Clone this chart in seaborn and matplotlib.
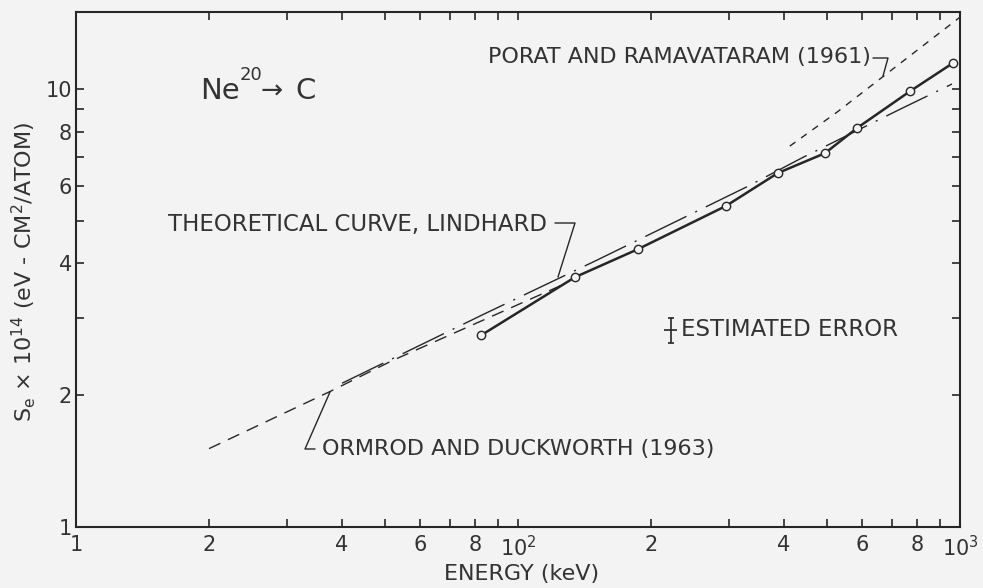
import numpy as np
import pandas as pd
import matplotlib
matplotlib.use("Agg")
import matplotlib.pyplot as plt
import seaborn as sns
from matplotlib.lines import Line2D
from matplotlib.ticker import FixedLocator, FixedFormatter, NullFormatter

# ---------------- data ----------------
exp_energy = [82.5, 134.6, 186.8, 295.5, 387, 495, 585, 771, 964]
exp_se = [2.74, 3.72, 4.31, 5.41, 6.43, 7.14, 8.15, 9.89, 11.47]

ormrod_energy = [20, 37.6, 52, 129]
ormrod_se = [1.51, 2.04, 2.40, 3.61]

lindhard_energy = [40, 83, 151, 328, 442, 726, 959]
lindhard_se = [2.13, 3.05, 4.07, 5.97, 6.99, 8.96, 10.27]

porat_energy = [412, 527, 1000]
porat_se = [7.41, 8.86, 14.6]

error_energy = [222]
error_se = [2.82]
error_yerr = [[0.19], [0.18]]
error_xerr = [[8], [7]]

x_ticks = [10, 20, 40, 60, 80, 100, 200, 400, 600, 800, 1000]
x_tick_labels = ["1", "2", "4", "6", "8", "$10^2$", "2", "4", "6", "8", "$10^3$"]
x_minor = [30, 50, 70, 90, 300, 500, 700, 900]
y_ticks = [1, 2, 4, 6, 8, 10]
y_tick_labels = ["1", "2", "4", "6", "8", "10"]
y_minor = [3, 5, 7, 9]

# ---------------- style ----------------
BG = "#f3f3f3"
INK = "#262626"
TXT = "#333333"
sns.set_theme(style="ticks")
plt.rcParams["font.family"] = ["DejaVu Sans"]
plt.rcParams["mathtext.fontset"] = "dejavusans"

W, H = 983, 588
fig = plt.figure(figsize=(W / 100, H / 100), dpi=100, facecolor=BG)
L, R, T, B = 76, 960, 12, 527
ax = fig.add_axes([L / W, 1 - B / H, (R - L) / W, (B - T) / H], facecolor=BG)

# experimental curve
sns.lineplot(x=exp_energy, y=exp_se, ax=ax, color=INK, linewidth=1.8,
             marker="o", markersize=6, markerfacecolor=BG,
             markeredgecolor=INK, markeredgewidth=1.0, zorder=5)
# Ormrod & Duckworth
sns.lineplot(x=ormrod_energy, y=ormrod_se, ax=ax, color=INK, linewidth=1.0,
             linestyle=(0, (9, 6)))
# Lindhard theory
sns.lineplot(x=lindhard_energy, y=lindhard_se, ax=ax, color=INK, linewidth=1.0,
             linestyle=(0, (33, 7, 1.5, 7)))
# Porat & Ramavataram
sns.lineplot(x=porat_energy, y=porat_se, ax=ax, color=INK, linewidth=1.0,
             linestyle=(0, (5, 5)))

# estimated error symbol
ax.errorbar(error_energy, error_se, yerr=error_yerr, fmt="none", ecolor=INK,
            elinewidth=1.2, capsize=2, capthick=1.2)
ax.errorbar(error_energy, error_se, xerr=error_xerr, fmt="none", ecolor=INK,
            elinewidth=1.2, capsize=0)

ax.set_xscale("log")
ax.set_yscale("log")
ax.set_xlim(10, 1000)
ax.set_ylim(1, 15)

ax.xaxis.set_major_locator(FixedLocator(x_ticks))
ax.xaxis.set_major_formatter(FixedFormatter(x_tick_labels))
ax.xaxis.set_minor_locator(FixedLocator(x_minor))
ax.xaxis.set_minor_formatter(NullFormatter())
ax.yaxis.set_major_locator(FixedLocator(y_ticks))
ax.yaxis.set_major_formatter(FixedFormatter(y_tick_labels))
ax.yaxis.set_minor_locator(FixedLocator(y_minor))
ax.yaxis.set_minor_formatter(NullFormatter())

for which in ("major", "minor"):
    ax.tick_params(axis="both", which=which, direction="in", length=6, width=1.2,
                   top=True, right=True, color=INK, labelcolor=TXT, labelsize=15)
ax.tick_params(axis="x", which="major", pad=6)
ax.tick_params(axis="y", which="major", pad=3)
for s in ax.spines.values():
    s.set_color(INK)
    s.set_linewidth(1.5)

ax.set_xlabel("ENERGY (keV)", fontsize=16, color=TXT)
ax.set_ylabel(r"S$_\mathregular{e}$ × 10$^{14}$ (eV - CM$^2$/ATOM)", fontsize=16, color=TXT)
ax.xaxis.set_label_coords((522 - L) / (R - L), -0.072)
ax.yaxis.set_label_coords((38 - L) / (R - L), (B - 272) / (B - T))


def fx(px):
    return px / W


def fy(py):
    return 1 - py / H


# title-like label
fig.text(fx(200), fy(99), "Ne", fontsize=21, color=TXT, va="baseline")
fig.text(fx(240), fy(80), "20", fontsize=13, color=TXT, va="baseline")
fig.text(fx(261), fy(99), "→", fontsize=19, color=TXT, va="baseline")
fig.text(fx(295), fy(99), "C", fontsize=21, color=TXT, va="baseline")

# annotations
fig.text(fx(488), fy(57), "PORAT AND RAMAVATARAM (1961)", fontsize=16,
         color=TXT, va="center")
fig.text(fx(168), fy(224), "THEORETICAL CURVE, LINDHARD", fontsize=16.5,
         color=TXT, va="center")
fig.text(fx(322), fy(449), "ORMROD AND DUCKWORTH (1963)", fontsize=16,
         color=TXT, va="center")
fig.text(fx(681), fy(330), "ESTIMATED ERROR", fontsize=16.5, color=TXT,
         va="center")

# leader lines
leaders = [
    [(873, 58), (888, 58), (883, 76)],
    [(555, 223), (575, 223), (558, 277)],
    [(330, 392), (305, 449), (315, 449)],
]
for pts in leaders:
    xs = [fx(p[0]) for p in pts]
    ys = [fy(p[1]) for p in pts]
    fig.add_artist(Line2D(xs, ys, transform=fig.transFigure, color=INK, lw=1.0))

fig.savefig("out.png", dpi=100, facecolor=BG)
